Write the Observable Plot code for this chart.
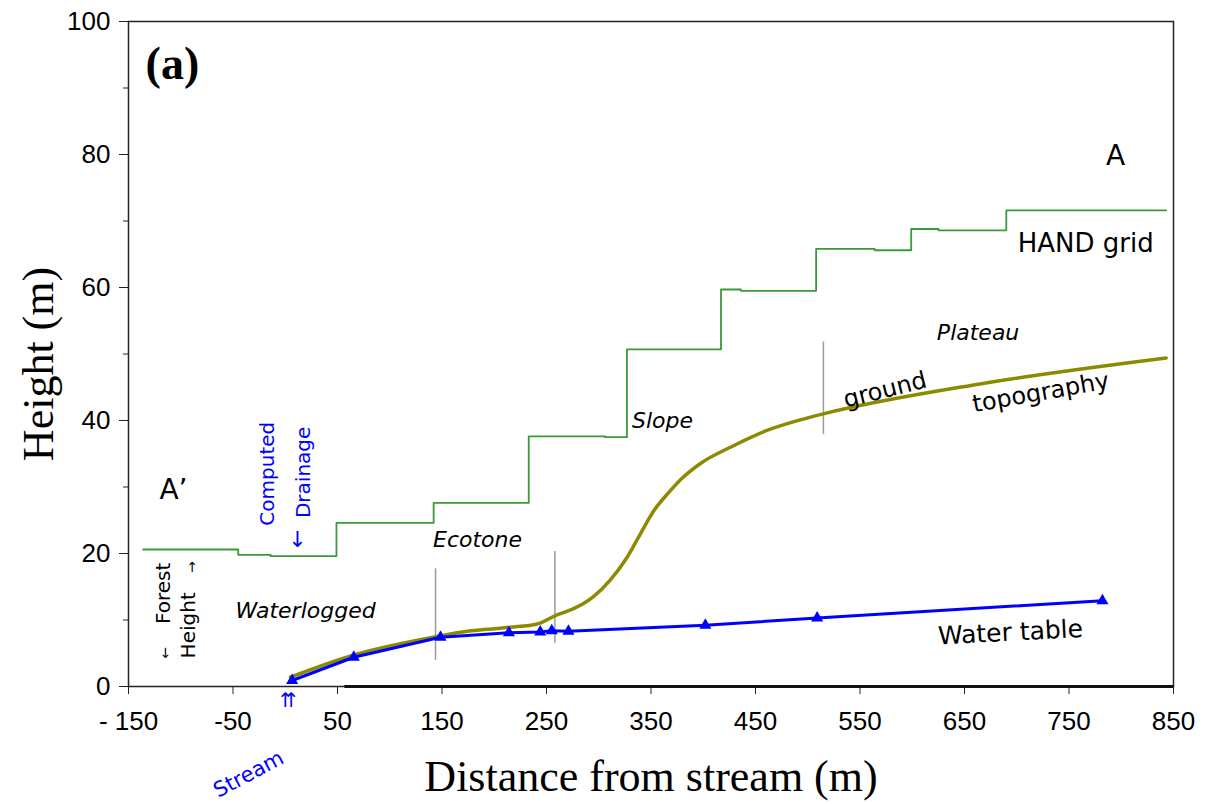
<!DOCTYPE html>
<html>
<head>
<meta charset="utf-8">
<script src="https://cdn.jsdelivr.net/npm/d3@7"></script>
<script src="https://cdn.jsdelivr.net/npm/@observablehq/plot@0.6"></script>
<style>
  html, body { margin: 0; padding: 0; background: #fff; }
  #chart svg { display: block; overflow: visible; }
</style>
</head>
<body>
<div id="chart"></div>
<script>
// ---- Data ----
const xTicks = [-150, -50, 50, 150, 250, 350, 450, 550, 650, 750, 850];
const yTicks = [0, 20, 40, 60, 80, 100];
const yMinorTicks = [10, 30, 50, 70, 90];

// HAND grid (step line, value holds until next x)
const handX = [-136, -45, -14, 49, 142, 233, 306, 327, 417, 436, 508, 564, 599, 625, 690, 843];
const handY = [20.6, 19.8, 19.6, 24.6, 27.6, 37.6, 37.5, 50.7, 59.7, 59.5, 65.8, 65.6, 68.8, 68.6, 71.6, 71.6];

// Ground topography
const groundX = [5, 65, 148, 174, 215, 241, 259, 276, 294, 311, 327, 340, 353, 366, 381, 397, 429, 461, 493, 515, 665, 843];
const groundY = [1.4, 4.7, 7.6, 8.3, 8.9, 9.4, 10.7, 11.7, 13.4, 16.0, 19.4, 23.0, 26.5, 29.0, 31.5, 33.5, 36.2, 38.5, 40.1, 41.0, 45.5, 49.4];

// Water table (with triangle markers)
const waterX = [6.6, 65.6, 148.6, 214, 244, 255, 271, 402, 509, 782];
const waterY = [0.9, 4.4, 7.4, 8.1, 8.2, 8.4, 8.3, 9.2, 10.3, 12.9];

// Gray vertical zone separators
const sepX = [143.8, 258, 515];
const sepY1 = [3.9, 6.5, 37.9];
const sepY2 = [17.7, 20.3, 51.8];

// Annotations
const panelLabel = [{x: -108, y: 93.6, text: "(a)"}];
const pointA = [{x: 794.5, y: 79.8, text: "A"}];
const pointA2 = [{x: -107, y: 29.5, text: "A\u2019"}];
const handLabel = [{x: 766, y: 66.6, text: "HAND grid"}];
const zoneLabels = [
  {x: 663, y: 53.1, text: "Plateau"},
  {x: 361, y: 40.0, text: "Slope"},
  {x: 184, y: 22.1, text: "Ecotone"},
  {x: 19.4, y: 11.4, text: "Waterlogged"}
];
const groundLabel = [{x: 574, y: 44.6, text: "ground"}];
const topoLabel = [{x: 723, y: 44.2, text: "topography"}];
const waterLabel = [{x: 694, y: 8.1, text: "Water table"}];
const drainLabels = [
  {x: -17, y: 32.0, text: "Computed"},
  {x: 17.5, y: 32.2, text: "Drainage"}
];
const drainArrow = [{x: 11.7, y: 22.0, text: "\u2193"}];
const forestLabels = [
  {x: -116.5, y: 14.0, text: "Forest"},
  {x: -92.6, y: 9.2, text: "Height"}
];
const forestArrows = [
  {x: -114.6, y: 5.0, text: "\u2193"},
  {x: -88.8, y: 17.9, text: "\u2191"}
];
const streamLabel = [{x: -35, y: -13.2, text: "Stream"}];
const streamArrow = [{x: 3.1, y: -2.1, text: "\u21C8"}];
const xTitle = ["Distance from stream (m)"];
const yTitle = ["Height (m)"];

// ---- Build tables ----
const hand = handX.map((x, i) => ({x, y: handY[i]}));
const ground = groundX.map((x, i) => ({x, y: groundY[i]}));
const water = waterX.map((x, i) => ({x, y: waterY[i]}));
const seps = sepX.map((x, i) => ({x, y1: sepY1[i], y2: sepY2[i]}));

const comic = "'Comic Sans MS', 'DejaVu Sans', sans-serif";
const serif = "'Liberation Serif', 'Times New Roman', serif";
const sans = "'Liberation Sans', Arial, sans-serif";

const chart = Plot.plot({
  width: 1206,
  height: 804,
  marginLeft: 128,
  marginRight: 33,
  marginTop: 21,
  marginBottom: 118,
  x: {domain: [-150, 850]},
  y: {domain: [0, 100]},
  style: {background: "#fff", color: "#000"},
  marks: [
    // axes
    Plot.axisY({ticks: yTicks, tickSize: 9, tickPadding: 9, fontSize: 26, fontFamily: sans, label: null, stroke: "#222"}),
    Plot.axisY({ticks: yMinorTicks, tickSize: 5, tickFormat: () => "", label: null, stroke: "#222"}),
    Plot.axisX({ticks: xTicks, tickSize: 8, tickPadding: 17, fontSize: 26, fontFamily: sans, label: null, stroke: "#222",
      tickFormat: d => d === -150 ? "- 150" : String(d)}),
    Plot.frame({stroke: "#222", strokeWidth: 1.5}),
    Plot.ruleY([0], {x1: 57, x2: 850, stroke: "#111", strokeWidth: 3}),

    // separators
    Plot.ruleX(seps, {x: "x", y1: "y1", y2: "y2", stroke: "#9a9a9a", strokeWidth: 1.5}),

    // HAND grid
    Plot.line(hand, {x: "x", y: "y", curve: "step-after", stroke: "#3a9a3a", strokeWidth: 1.8}),

    // ground topography
    Plot.line(ground, {x: "x", y: "y", curve: "monotone-x", stroke: "#8c8a00", strokeWidth: 3.5}),

    // water table
    Plot.line(water, {x: "x", y: "y", stroke: "#0000ff", strokeWidth: 3}),
    Plot.dot(water, {x: "x", y: "y", symbol: "triangle", r: 4.5, fill: "#0000ff", stroke: "none"}),

    // annotations
    Plot.text(panelLabel, {x: "x", y: "y", text: "text", fontSize: 46, fontWeight: "bold", fontFamily: serif}),
    Plot.text(pointA, {x: "x", y: "y", text: "text", fontSize: 28, fontFamily: comic}),
    Plot.text(pointA2, {x: "x", y: "y", text: "text", fontSize: 28, fontFamily: comic}),
    Plot.text(handLabel, {x: "x", y: "y", text: "text", fontSize: 26, fontFamily: comic}),
    Plot.text(zoneLabels, {x: "x", y: "y", text: "text", fontSize: 22, fontStyle: "italic", fontFamily: comic}),
    Plot.text(groundLabel, {x: "x", y: "y", text: "text", fontSize: 24, fontFamily: comic, rotate: -14}),
    Plot.text(topoLabel, {x: "x", y: "y", text: "text", fontSize: 24, fontFamily: comic, rotate: -10}),
    Plot.text(waterLabel, {x: "x", y: "y", text: "text", fontSize: 25, fontFamily: comic, rotate: -3}),
    Plot.text(drainLabels, {x: "x", y: "y", text: "text", fontSize: 20, fontFamily: comic, rotate: -90, fill: "#0000ff"}),
    Plot.text(drainArrow, {x: "x", y: "y", text: "text", fontSize: 22, fontFamily: "'DejaVu Sans', sans-serif", fill: "#0000ff"}),
    Plot.text(forestLabels, {x: "x", y: "y", text: "text", fontSize: 20, fontFamily: comic, rotate: -90}),
    Plot.text(forestArrows, {x: "x", y: "y", text: "text", fontSize: 14, fontFamily: "'DejaVu Sans', sans-serif"}),
    Plot.text(streamLabel, {x: "x", y: "y", text: "text", fontSize: 21, fontFamily: comic, rotate: -28, fill: "#0000ff"}),
    Plot.text(streamArrow, {x: "x", y: "y", text: "text", fontSize: 20, fontFamily: "'DejaVu Sans', sans-serif", fill: "#0000ff"}),

    // axis titles
    Plot.text(xTitle, {frameAnchor: "bottom", dy: 90, text: d => d, fontSize: 44, fontFamily: serif, textAnchor: "middle", lineAnchor: "middle"}),
    Plot.text(yTitle, {frameAnchor: "left", dx: -90, dy: 10, text: d => d, fontSize: 44, fontFamily: serif, rotate: -90, textAnchor: "middle", lineAnchor: "middle"})
  ]
});

document.getElementById("chart").appendChild(chart);
</script>
</body>
</html>
